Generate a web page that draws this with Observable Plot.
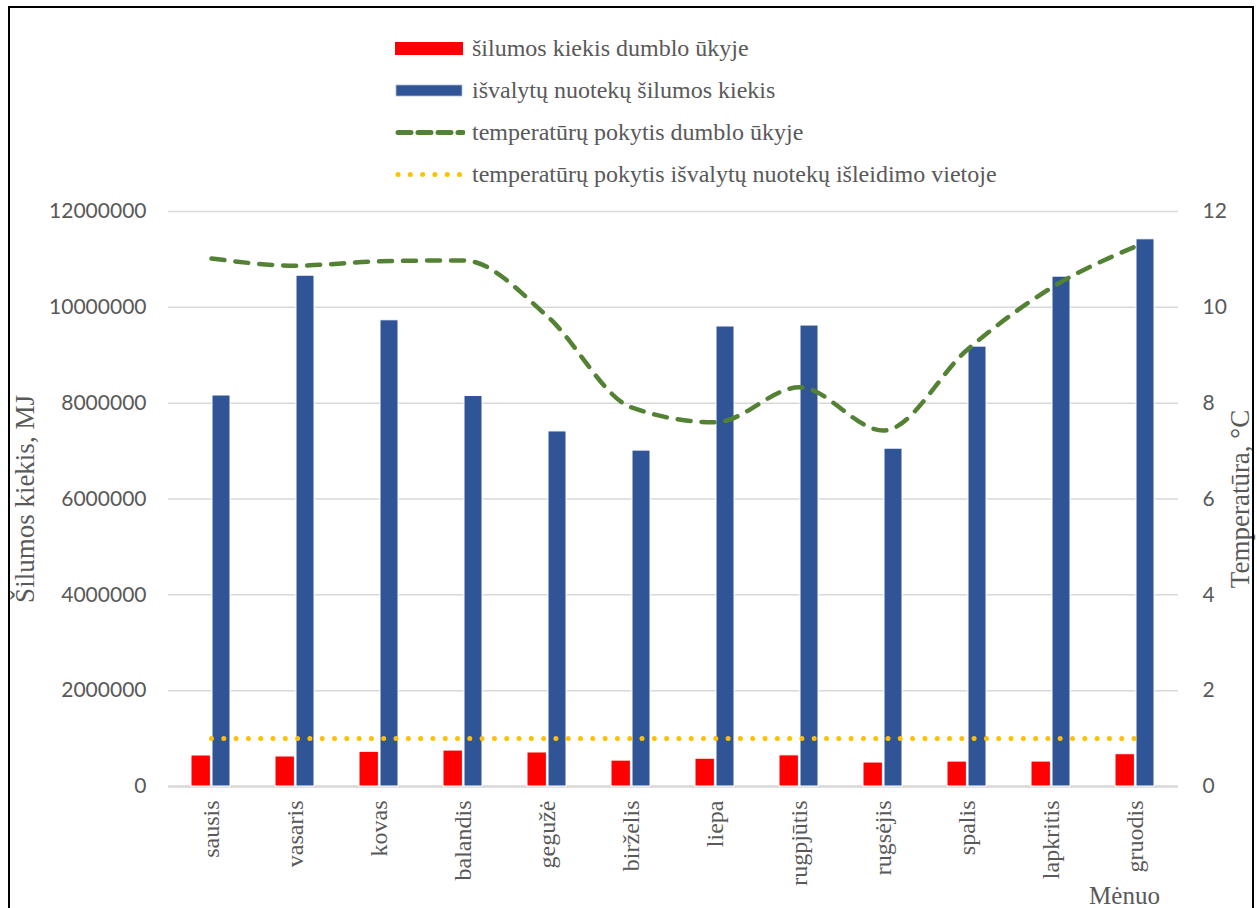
<!DOCTYPE html>
<html>
<head>
<meta charset="utf-8">
<script src="https://cdn.jsdelivr.net/npm/d3@7"></script>
<script src="https://cdn.jsdelivr.net/npm/@observablehq/plot@0.6"></script>
<style>
  body { margin: 0; background: #fff; }
  #wrap { position: relative; width: 1257px; height: 908px; overflow: hidden; background: #fff; }
  #frame { position: absolute; left: 8px; top: 6px; width: 1246px; height: 1000px; border: 2px solid #000; box-sizing: border-box; pointer-events: none; }
  #legend { position: absolute; left: 395px; top: 27px; font-family: "Liberation Serif", serif; font-size: 24px; color: #595959; }
  #legend .row { height: 42px; display: flex; align-items: center; white-space: nowrap; }
  #legend svg { margin-right: 7px; flex: none; }
  #chart { position: absolute; left: 0; top: 0; }
</style>
</head>
<body>
<div id="wrap">
  <div id="chart"></div>
  <div id="legend"></div>
  <div id="frame"></div>
</div>
<script>
// Months (Lithuanian)
const months = ["sausis", "vasaris", "kovas", "balandis", "gegužė", "birželis",
                "liepa", "rugpjūtis", "rugsėjis", "spalis", "lapkritis", "gruodis"];

// Heat amount in the sludge facility, MJ
const heatSludge = [647000, 626000, 724000, 750000, 710000, 540000,
                    580000, 650000, 500000, 520000, 520000, 674000];

// Heat amount of treated wastewater, MJ
const heatEffluent = [8160000, 10660000, 9730000, 8150000, 7410000, 7010000,
                      9600000, 9620000, 7050000, 9180000, 10640000, 11420000];

// Temperature change in the sludge facility, °C
const tempSludge = [11.02, 10.87, 10.96, 10.98, 9.81, 7.91,
                    7.60, 8.33, 7.43, 9.12, 10.41, 11.27];

// Temperature change at the treated wastewater outlet, °C
const tempOutlet = [1, 1, 1, 1, 1, 1, 1, 1, 1, 1, 1, 1];

// Axis ticks
const heatTicks = [0, 2000000, 4000000, 6000000, 8000000, 10000000, 12000000];
const tempTicks = [0, 2, 4, 6, 8, 10, 12];

// Legend entries
const seriesNames = [
  "šilumos kiekis dumblo ūkyje",
  "išvalytų nuotekų šilumos kiekis",
  "temperatūrų pokytis dumblo ūkyje",
  "temperatūrų pokytis išvalytų nuotekų išleidimo vietoje"
];

// Temperatures share the vertical scale with heat: 1 °C ↔ 1 000 000 MJ
const K = 1e6;

const colors = { red: "#ff0000", blue: "#2f5597", green: "#548235", yellow: "#ffc000" };
const tickGray = "#595959";
const serif = "Liberation Serif, serif";

const rows = months.map((m, i) => ({
  month: m,
  sludge: heatSludge[i],
  effluent: heatEffluent[i],
  tSludge: tempSludge[i] * K,
  tOutlet: tempOutlet[i] * K
}));

const chart = Plot.plot({
  width: 1257,
  height: 908,
  marginLeft: 168,
  marginRight: 79,
  marginTop: 211,
  marginBottom: 122,
  style: { background: "transparent", color: tickGray, fontFamily: serif },
  x: { domain: months, padding: 0, label: null },
  y: { domain: [0, 12e6], label: null },
  marks: [
    Plot.gridY(heatTicks, { stroke: "#d9d9d9", strokeOpacity: 1, strokeWidth: 1.5 }),
    Plot.ruleY([0], { stroke: "#d9d9d9", strokeOpacity: 1, strokeWidth: 2.5 }),
    Plot.barY(rows, { x: "month", y: "sludge", fill: colors.red, stroke: "#fff", strokeWidth: 1, insetLeft: 22, insetRight: 42.6 }),
    Plot.barY(rows, { x: "month", y: "effluent", fill: colors.blue, stroke: "#fff", strokeWidth: 1, insetLeft: 43, insetRight: 23 }),
    Plot.line(rows, { x: "month", y: "tOutlet", stroke: colors.yellow, strokeWidth: 5, strokeDasharray: "0,12.3", strokeLinecap: "round" }),
    Plot.line(rows, { x: "month", y: "tSludge", stroke: colors.green, strokeWidth: 4.5, strokeDasharray: "13,11", strokeLinecap: "round", curve: "monotone-x" }),
    Plot.axisY(heatTicks, { anchor: "left", tickSize: 0, tickPadding: 22, tickFormat: d3.format("d"), fontFamily: "Lato", fontSize: 21, fill: tickGray, label: null }),
    Plot.axisY(heatTicks, { anchor: "right", tickSize: 0, tickPadding: 24, tickFormat: d => d / K, fontFamily: "Lato", fontSize: 21, fill: tickGray, label: null }),
    Plot.axisX({ tickRotate: -90, tickSize: 0, tickPadding: 14, fontFamily: serif, fontSize: 24, fill: tickGray, label: null }),
    Plot.text(["Šilumos kiekis, MJ"], { frameAnchor: "left", dx: -143, rotate: -90, textAnchor: "middle", lineAnchor: "middle", fontFamily: serif, fontSize: 27, fill: tickGray }),
    Plot.text(["Temperatūra, °C"], { frameAnchor: "right", dx: 62, rotate: -90, textAnchor: "middle", lineAnchor: "middle", fontFamily: serif, fontSize: 27, fill: tickGray }),
    Plot.text(["Mėnuo"], { frameAnchor: "bottom-right", dx: -54, dy: 117, textAnchor: "middle", lineAnchor: "bottom", fontFamily: serif, fontSize: 25, fill: tickGray })
  ]
});
document.getElementById("chart").appendChild(chart);

// Legend
const legend = document.getElementById("legend");
const swatches = [
  `<rect x="0" y="4" width="68" height="13" fill="${colors.red}"/>`,
  `<rect x="1" y="5" width="66" height="11" fill="${colors.blue}" stroke="#aab8d8" stroke-width="0.8"/>`,
  `<line x1="3" x2="68" y1="10.5" y2="10.5" stroke="${colors.green}" stroke-width="5" stroke-dasharray="13,7" stroke-linecap="round"/>`,
  `<line x1="3" x2="68" y1="10.5" y2="10.5" stroke="${colors.yellow}" stroke-width="5" stroke-dasharray="0,12.3" stroke-linecap="round"/>`
];
seriesNames.forEach((name, i) => {
  const row = document.createElement("div");
  row.className = "row";
  row.innerHTML = `<svg width="70" height="21">${swatches[i]}</svg><span>${name}</span>`;
  legend.appendChild(row);
});
</script>
</body>
</html>
